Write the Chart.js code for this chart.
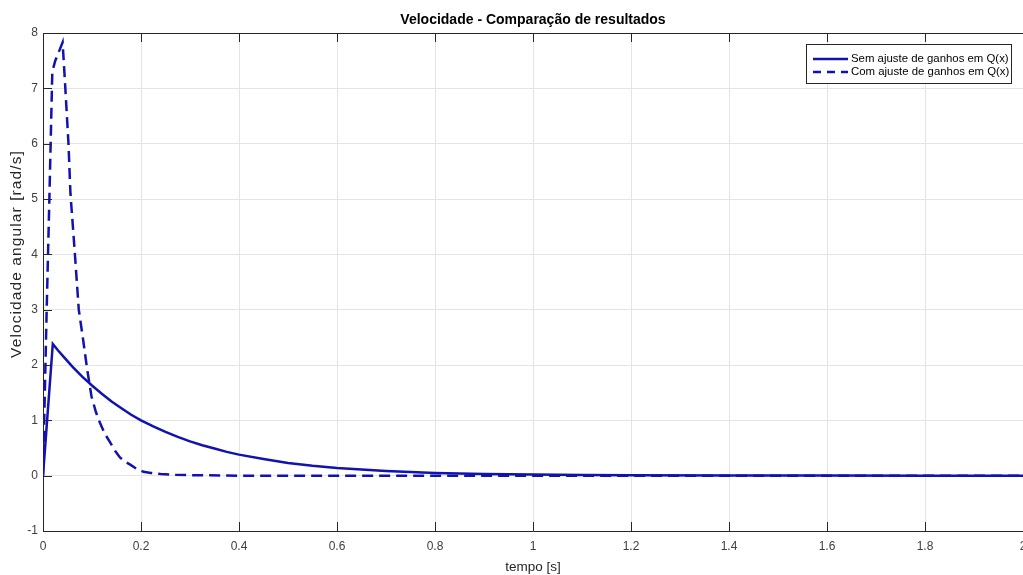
<!DOCTYPE html>
<html>
<head>
<meta charset="utf-8">
<script src="https://cdn.jsdelivr.net/npm/chart.js@4"></script>
<style>
  html, body { margin: 0; padding: 0; background: #fff; }
  #wrap { width: 1023px; height: 575px; }
</style>
</head>
<body>
<div id="wrap"><canvas id="grafico" width="1023" height="575"></canvas></div>
<script>
// tempo [s] e velocidade [rad/s]
var tSem = [0, 0.02, 0.03, 0.04, 0.05, 0.06, 0.08, 0.1, 0.12, 0.14, 0.16, 0.18, 0.2, 0.225, 0.25, 0.275, 0.3, 0.325, 0.35, 0.375, 0.4, 0.45, 0.5, 0.55, 0.6, 0.65, 0.7, 0.8, 0.9, 1.0, 1.1, 1.2, 1.4, 1.6, 1.8, 2.0];
var vSem = [0, 2.38, 2.27, 2.17, 2.07, 1.97, 1.79, 1.63, 1.48, 1.34, 1.22, 1.1, 1.0, 0.89, 0.79, 0.7, 0.62, 0.55, 0.49, 0.43, 0.38, 0.3, 0.23, 0.18, 0.14, 0.11, 0.085, 0.05, 0.03, 0.02, 0.012, 0.007, 0.003, 0.001, 0, 0];

var tCom = [0, 0.0075, 0.013, 0.019, 0.025, 0.031, 0.04, 0.045, 0.052, 0.056, 0.065, 0.073, 0.082, 0.09, 0.099, 0.108, 0.116, 0.126, 0.137, 0.147, 0.157, 0.168, 0.178, 0.19, 0.205, 0.22, 0.24, 0.27, 0.3, 0.4, 0.6, 1.0, 1.5, 2.0];
var vCom = [0, 3.0, 5.0, 7.3, 7.5, 7.63, 7.83, 7.09, 6.0, 5.1, 4.02, 3.0, 2.45, 1.93, 1.43, 1.15, 0.96, 0.76, 0.6, 0.45, 0.33, 0.25, 0.2, 0.13, 0.07, 0.05, 0.03, 0.015, 0.01, 0, 0, 0, 0, 0];

var legendas = ['Sem ajuste de ganhos em Q(x)', 'Com ajuste de ganhos em Q(x)'];
var titulo = 'Velocidade - Comparação de resultados';
var tituloY = 'Velocidade angular [rad/s]';
var tituloX = 'tempo [s]';

var azul = '#1212b0';
var fonte = '"Liberation Sans", Arial, sans-serif';

function pontos(t, v){
  var out = [];
  for (var i = 0; i < t.length; i++) out.push({x: t[i], y: v[i]});
  return out;
}

// borda de cima, marcas internas, título do eixo y e legenda no estilo matlab
var estiloMatlab = {
  id: 'estiloMatlab',
  afterDraw: function(chart){
    var ctx = chart.ctx;
    var a = chart.chartArea;
    var sx = chart.scales.x, sy = chart.scales.y;
    ctx.save();
    ctx.strokeStyle = '#262626';
    ctx.lineWidth = 1;
    ctx.beginPath();
    ctx.moveTo(a.left, a.top + 0.5);
    ctx.lineTo(a.right, a.top + 0.5);
    sx.ticks.forEach(function(t){
      var px = Math.round(sx.getPixelForValue(t.value)) + 0.5;
      ctx.moveTo(px, a.bottom); ctx.lineTo(px, a.bottom - 9);
      ctx.moveTo(px, a.top); ctx.lineTo(px, a.top + 9);
    });
    sy.ticks.forEach(function(t){
      var py = Math.round(sy.getPixelForValue(t.value)) + 0.5;
      ctx.moveTo(a.left, py); ctx.lineTo(a.left + 9, py);
    });
    ctx.stroke();

    // título do eixo y (letras mais espaçadas como no original)
    ctx.save();
    ctx.translate(17, 254);
    ctx.rotate(-Math.PI / 2);
    ctx.font = '15.5px ' + fonte;
    ctx.letterSpacing = '1.1px';
    ctx.fillStyle = '#262626';
    ctx.textAlign = 'center';
    ctx.textBaseline = 'middle';
    ctx.fillText(tituloY, 0, 0);
    ctx.restore();

    // legenda
    var bx = 806, by = 44, bw = 205, bh = 39;
    ctx.fillStyle = '#fff';
    ctx.fillRect(bx, by, bw, bh);
    ctx.strokeStyle = '#262626';
    ctx.lineWidth = 1;
    ctx.strokeRect(bx + 0.5, by + 0.5, bw, bh);
    ctx.font = '11.4px ' + fonte;
    ctx.textBaseline = 'middle';
    ctx.textAlign = 'left';
    chart.data.datasets.forEach(function(ds, i){
      var y = 59 + i * 13;
      ctx.strokeStyle = ds.borderColor;
      ctx.lineWidth = ds.borderWidth;
      ctx.setLineDash(ds.borderDash ? [8, 6] : []);
      ctx.beginPath();
      ctx.moveTo(813, y); ctx.lineTo(848, y);
      ctx.stroke();
      ctx.setLineDash([]);
      ctx.fillStyle = '#000';
      ctx.fillText(ds.label, 851, y);
    });
    ctx.restore();
  }
};

new Chart(document.getElementById('grafico'), {
  type: 'line',
  data: {
    datasets: [{
      label: legendas[0],
      data: pontos(tSem, vSem),
      borderColor: azul,
      borderWidth: 2.5,
      pointRadius: 0,
      tension: 0,
      fill: false
    }, {
      label: legendas[1],
      data: pontos(tCom, vCom),
      borderColor: azul,
      borderWidth: 2.5,
      borderDash: [11, 6],
      pointRadius: 0,
      tension: 0,
      fill: false
    }]
  },
  options: {
    responsive: false,
    animation: false,
    layout: { padding: 0 },
    plugins: {
      legend: { display: false },
      tooltip: { enabled: false },
      title: {
        display: true,
        text: titulo,
        fullSize: false,
        color: '#000',
        font: { family: fonte, size: 14, weight: 'bold' },
        padding: { top: 12, bottom: 4.2 }
      }
    },
    scales: {
      x: {
        type: 'linear',
        min: 0,
        max: 2,
        ticks: {
          stepSize: 0.2,
          maxRotation: 0,
          padding: 8,
          color: '#404040',
          font: { family: fonte, size: 12 },
          callback: function(v){ return String(+v.toFixed(1)); }
        },
        grid: { color: '#e4e4e4', drawTicks: false },
        border: { color: '#262626', width: 1 },
        title: {
          display: true,
          text: tituloX,
          color: '#262626',
          font: { family: fonte, size: 13.5 },
          padding: { top: 0, bottom: 0 }
        },
        afterFit: function(s){ s.height = 44; s.paddingLeft = 0; s.paddingRight = 0; }
      },
      y: {
        min: -1,
        max: 8,
        ticks: {
          stepSize: 1,
          padding: 5,
          color: '#404040',
          font: { family: fonte, size: 12 }
        },
        grid: { color: '#e4e4e4', drawTicks: false },
        border: { color: '#262626', width: 1 },
        title: { display: false },
        afterFit: function(s){ s.width = 43; s.paddingTop = 0; s.paddingBottom = 0; }
      }
    }
  },
  plugins: [estiloMatlab]
});
</script>
</body>
</html>
